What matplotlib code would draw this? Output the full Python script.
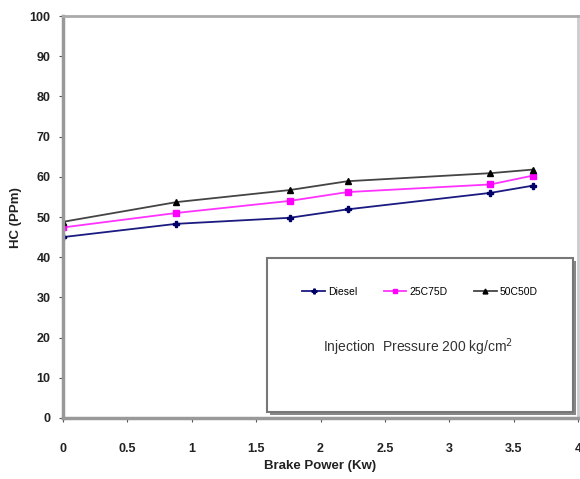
import matplotlib
matplotlib.use("Agg")
import matplotlib.pyplot as plt
from matplotlib.patches import Rectangle

brake_power = [0, 0.88, 1.76, 2.21, 3.32, 3.65]
diesel = [45, 48.3, 49.8, 51.9, 56.0, 57.8]
c25d75 = [47.4, 51.0, 54.0, 56.2, 58.1, 60.3]
c50d50 = [48.8, 53.7, 56.7, 58.9, 60.9, 61.8]
x_ticks = [0, 0.5, 1, 1.5, 2, 2.5, 3, 3.5, 4]
x_tick_labels = ["0", "0.5", "1", "1.5", "2", "2.5", "3", "3.5", "4"]
y_ticks = [0, 10, 20, 30, 40, 50, 60, 70, 80, 90, 100]

plt.rcParams['font.family'] = ['Liberation Sans', 'DejaVu Sans']

fig = plt.figure(figsize=(5.80, 4.79), dpi=100)
ax = fig.add_axes([63/580, 1-418/479, 515/580, 402/479])

ax.plot(brake_power, diesel, color='#1a1a80', lw=1.3, marker='P', ms=5,
        mfc='#000066', mec='#000066', label='Diesel')
ax.plot(brake_power, c25d75, color='#ff33ff', lw=1.3, marker='s', ms=5,
        mfc='#ff00ff', mec='#ff00ff', label='25C75D')
ax.plot(brake_power, c50d50, color='#444444', lw=1.3, marker='^', ms=5,
        mfc='black', mec='black', label='50C50D')

ax.set_xlim(0, 4)
ax.set_ylim(0, 100)
ax.set_xticks(x_ticks)
ax.set_xticklabels(x_tick_labels)
ax.set_yticks(y_ticks)
for lab in ax.get_xticklabels() + ax.get_yticklabels():
    lab.set_fontweight('bold')
    lab.set_fontsize(9)
    lab.set_color('#222222')
ax.tick_params(axis='x', length=3, color='#555555', pad=15)
ax.tick_params(axis='y', length=3, color='#555555', pad=6)

for s in ['left', 'bottom']:
    ax.spines[s].set_color('#999999')
    ax.spines[s].set_linewidth(2.5)
ax.spines['top'].set_color('#aaaaaa')
ax.spines['top'].set_linewidth(2)
ax.spines['right'].set_color('#cccccc')
ax.spines['right'].set_linewidth(2)

fig.text(320/580, 1-466/479, 'Brake Power (Kw)', fontsize=9.5, fontweight='bold',
         ha='center', va='center', color='#222222')
fig.text(16/580, 1-218/479, 'HC (PPm)', fontsize=9.5, fontweight='bold',
         ha='center', va='center', rotation=90, color='#222222')

# Box with shadow
x0, y0 = (267-63)/515, (418-412)/402
w, h = (573-267)/515, (412-258)/402
shadow = Rectangle((x0+0.006, y0-0.008), w, h, transform=ax.transAxes,
                   facecolor='#888888', edgecolor='none', zorder=4)
ax.add_patch(shadow)
box = Rectangle((x0, y0), w, h, transform=ax.transAxes,
                facecolor='white', edgecolor='#777777', lw=1.5, zorder=5)
ax.add_patch(box)

leg = ax.legend(loc='center', bbox_to_anchor=((420-63)/515, (418-292)/402),
                ncol=3, frameon=False, fontsize=7.5, handlelength=2.2,
                columnspacing=2.5, handletextpad=0.3, markerscale=0.7)
leg.set_zorder(6)

ax.text((418-63)/515, (418-347)/402, 'Injection  Pressure 200 kg/cm$^2$',
        transform=ax.transAxes, ha='center', va='center', fontsize=10,
        color='#333333', zorder=6)

fig.savefig('out.png', dpi=100)
